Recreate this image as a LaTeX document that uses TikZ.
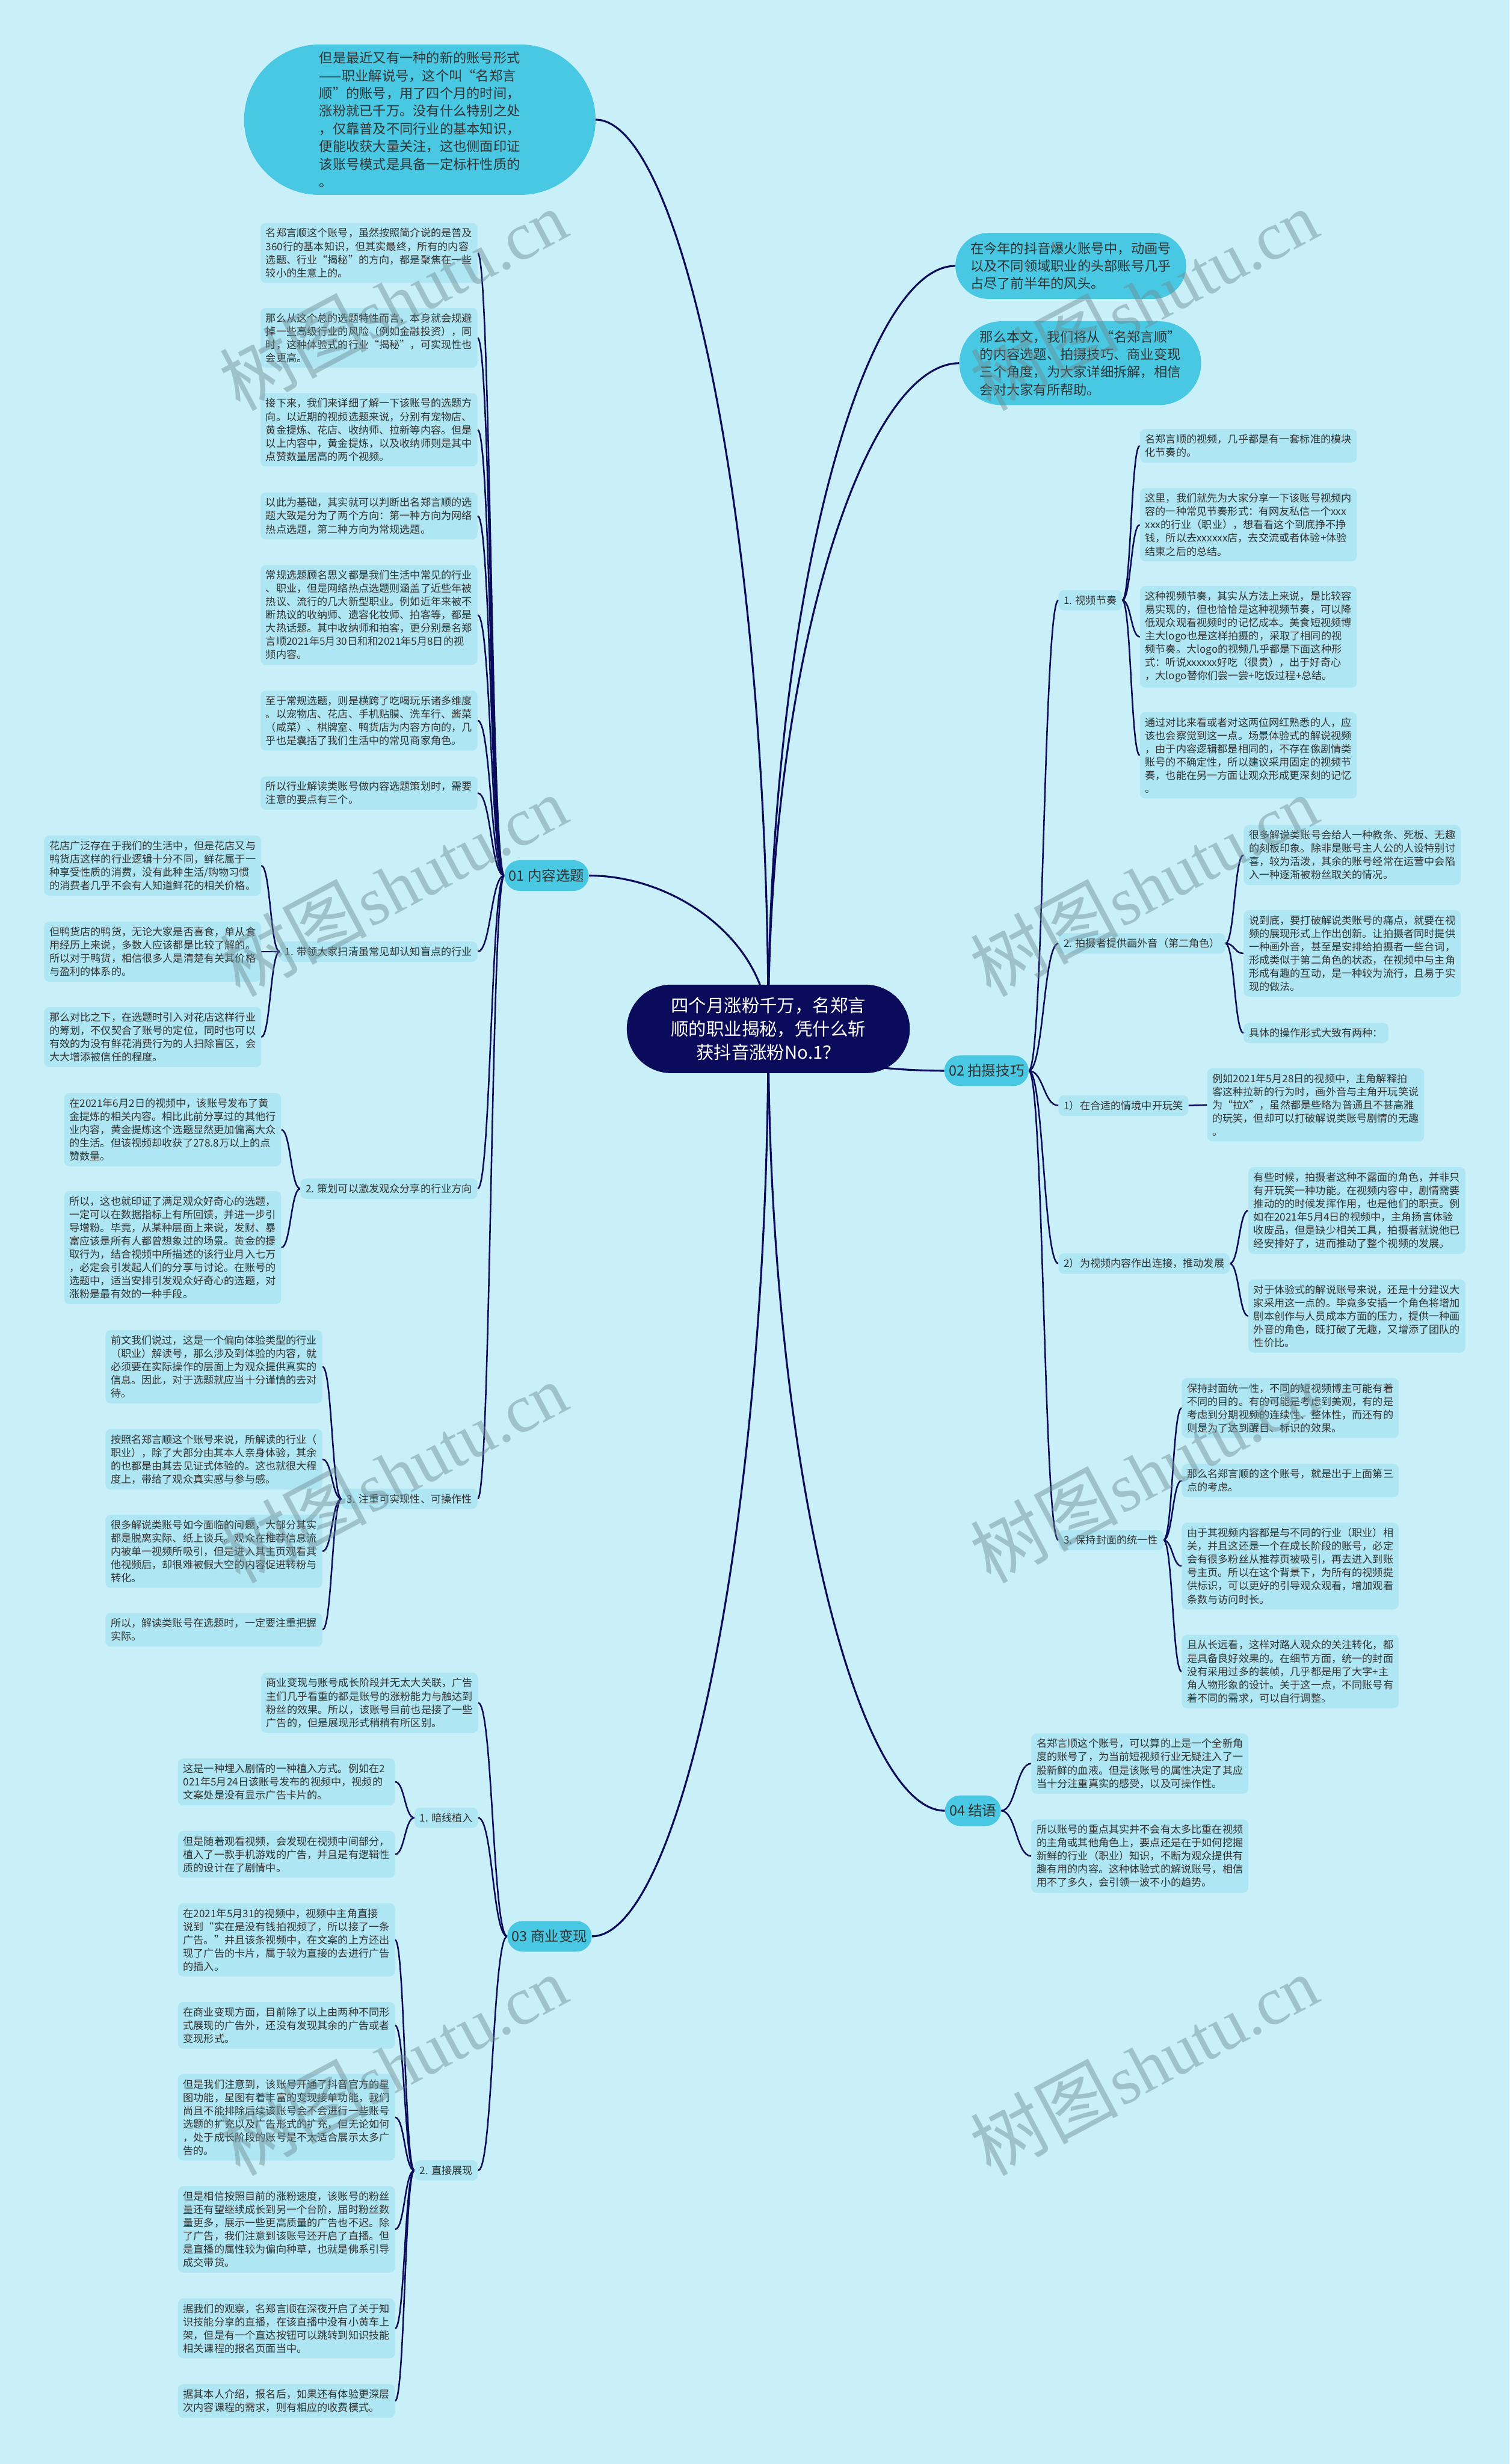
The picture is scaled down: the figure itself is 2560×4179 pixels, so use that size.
\documentclass[tikz,border=0pt]{standalone}
\usepackage{fontspec}
\setmainfont{Noto Sans CJK SC}
\newfontfamily\wmserif{Liberation Serif}
\usetikzlibrary{shapes.misc,calc}
\definecolor{bgc}{HTML}{C9F0F8}
\definecolor{notec}{HTML}{AEE6F3}
\definecolor{bubc}{HTML}{48C8E2}
\definecolor{navy}{HTML}{0B0B5C}
\definecolor{txt}{HTML}{333333}
\definecolor{wmc}{RGB}{110,140,148}
\pgfdeclarelayer{bg}
\pgfsetlayers{bg,main}
\tikzset{
 note/.style={fill=notec, rounded corners=9pt, text=txt, align=left, text width=350pt, inner xsep=9pt, inner ysep=9pt, font=\fontsize{17.5}{22.5}\selectfont},
 snote/.style={fill=notec, rounded corners=9pt, text=txt, align=left, inner xsep=9pt, inner ysep=9pt, font=\fontsize{17.5}{22.5}\selectfont},
 bubble/.style={rounded rectangle, fill=bubc, text=txt, align=left, inner xsep=8pt, font=\fontsize{22.7}{30}\selectfont},
 sect/.style={rounded rectangle, fill=bubc, text=txt, inner xsep=5pt, minimum height=52pt, font=\fontsize{24}{28}\selectfont},
 rootn/.style={rounded rectangle, fill=navy, text=white, align=center, inner xsep=9pt, minimum width=498pt, minimum height=150pt, font=\fontsize{30}{40}\selectfont},
 link/.style={draw=navy, line width=2.6pt, to path={let \p1=(\tikztostart), \p2=(\tikztotarget) in .. controls ({0.5*\x1+0.5*\x2},\y1) and ({0.5*\x1+0.5*\x2},\y2) .. (\tikztotarget)}},
 rlink/.style={draw=navy, line width=3.2pt, to path={let \p1=(\tikztostart), \p2=(\tikztotarget) in .. controls (\x1,{0.55*\y2+0.45*\y1}) and ({0.5*\x1+0.5*\x2},\y2) .. (\tikztotarget)}},
 wm/.style={rotate=28, text=wmc, opacity=0.45, inner sep=0pt}
}
\newcommand{\wmtext}{{\fontsize{125}{125}\selectfont 树图} {\wmserif\fontsize{115}{115}\selectfont shutu.cn}}
\begin{document}
\begin{tikzpicture}[x=1pt,y=-1pt]
\begin{pgfonlayer}{bg}
\fill[bgc] (0,0) rectangle (2560,4179);
\end{pgfonlayer}
\useasboundingbox (0,0) rectangle (2560,4179);

% root
\node[rootn] (root) at (1303,1745) {四个月涨粉千万，名郑言\\顺的职业揭秘，凭什么斩\\获抖音涨粉No.1？};

% bubbles
\node[bubble, minimum width=612pt, minimum height=255pt] (top) at (712,203) {但是最近又有一种的新的账号形式\\——职业解说号，这个叫“名郑言\\顺”的账号，用了四个月的时间，\\涨粉就已千万。没有什么特别之处\\，仅靠普及不同行业的基本知识，\\便能收获大量关注，这也侧面印证\\该账号模式是具备一定标杆性质的\\。};
\node[bubble, minimum height=112pt] (b1) at (1816,451) {在今年的抖音爆火账号中，动画号\\以及不同领域职业的头部账号几乎\\占尽了前半年的风头。};
\node[bubble, minimum height=142pt] (b2) at (1832,616) {那么本文，我们将从“名郑言顺”\\的内容选题、拍摄技巧、商业变现\\三个角度，为大家详细拆解，相信\\会对大家有所帮助。};

% sections
\node[sect] (s1) at (927,1485) {01 内容选题};
\node[sect] (s2) at (1673,1816) {02 拍摄技巧};
\node[sect] (s3) at (932,3284) {03 商业变现};
\node[sect] (s4) at (1650,3071) {04 结语};

% ---------- section 01 ----------
\node[note, anchor=east] (a1) at (810,429) {名郑言顺这个账号，虽然按照简介说的是普及\\360行的基本知识，但其实最终，所有的内容\\选题、行业“揭秘”的方向，都是聚焦在一些\\较小的生意上的。};
\node[note, anchor=east] (a2) at (810,573) {那么从这个总的选题特性而言，本身就会规避\\掉一些高级行业的风险（例如金融投资），同\\时，这种体验式的行业“揭秘”，可实现性也\\会更高。};
\node[note, anchor=east] (a3) at (810,729) {接下来，我们来详细了解一下该账号的选题方\\向。以近期的视频选题来说，分别有宠物店、\\黄金提炼、花店、收纳师、拉新等内容。但是\\以上内容中，黄金提炼，以及收纳师则是其中\\点赞数量居高的两个视频。};
\node[note, anchor=east] (a4) at (810,875) {以此为基础，其实就可以判断出名郑言顺的选\\题大致是分为了两个方向：第一种方向为网络\\热点选题，第二种方向为常规选题。};
\node[note, anchor=east] (a5) at (810,1043) {常规选题顾名思义都是我们生活中常见的行业\\、职业，但是网络热点选题则涵盖了近些年被\\热议、流行的几大新型职业。例如近年来被不\\断热议的收纳师、遗容化妆师、拍客等，都是\\大热话题。其中收纳师和拍客，更分别是名郑\\言顺2021年5月30日和和2021年5月8日的视\\频内容。};
\node[note, anchor=east] (a6) at (810,1222) {至于常规选题，则是横跨了吃喝玩乐诸多维度\\。以宠物店、花店、手机贴膜、洗车行、酱菜\\（咸菜）、棋牌室、鸭货店为内容方向的，几\\乎也是囊括了我们生活中的常见商家角色。};
\node[note, anchor=east] (a7) at (810,1345) {所以行业解读类账号做内容选题策划时，需要\\注意的要点有三个。};

\node[snote, anchor=east] (l11) at (810,1614) {1. 带领大家扫清虽常见却认知盲点的行业};
\node[note, anchor=east] (l11a) at (443,1468) {花店广泛存在于我们的生活中，但是花店又与\\鸭货店这样的行业逻辑十分不同，鲜花属于一\\种享受性质的消费，没有此种生活/购物习惯\\的消费者几乎不会有人知道鲜花的相关价格。};
\node[note, anchor=east] (l11b) at (443,1614) {但鸭货店的鸭货，无论大家是否喜食，单从食\\用经历上来说，多数人应该都是比较了解的。\\所以对于鸭货，相信很多人是清楚有关其价格\\与盈利的体系的。};
\node[note, anchor=east] (l11c) at (443,1759) {那么对比之下，在选题时引入对花店这样行业\\的筹划，不仅契合了账号的定位，同时也可以\\有效的为没有鲜花消费行为的人扫除盲区，会\\大大增添被信任的程度。};

\node[snote, anchor=east] (l12) at (810,2016) {2. 策划可以激发观众分享的行业方向};
\node[note, anchor=east] (l12a) at (477,1916) {在2021年6月2日的视频中，该账号发布了黄\\金提炼的相关内容。相比此前分享过的其他行\\业内容，黄金提炼这个选题显然更加偏离大众\\的生活。但该视频却收获了278.8万以上的点\\赞数量。};
\node[note, anchor=east] (l12b) at (477,2116) {所以，这也就印证了满足观众好奇心的选题，\\一定可以在数据指标上有所回馈，并进一步引\\导增粉。毕竟，从某种层面上来说，发财、暴\\富应该是所有人都曾想象过的场景。黄金的提\\取行为，结合视频中所描述的该行业月入七万\\，必定会引发起人们的分享与讨论。在账号的\\选题中，适当安排引发观众好奇心的选题，对\\涨粉是最有效的一种手段。};

\node[snote, anchor=east] (l13) at (810,2542) {3. 注重可实现性、可操作性};
\node[note, anchor=east] (l13a) at (547,2318) {前文我们说过，这是一个偏向体验类型的行业\\（职业）解读号，那么涉及到体验的内容，就\\必须要在实际操作的层面上为观众提供真实的\\信息。因此，对于选题就应当十分谨慎的去对\\待。};
\node[note, anchor=east] (l13b) at (547,2475) {按照名郑言顺这个账号来说，所解读的行业（\\职业），除了大部分由其本人亲身体验，其余\\的也都是由其去见证式体验的。这也就很大程\\度上，带给了观众真实感与参与感。};
\node[note, anchor=east] (l13c) at (547,2631) {很多解说类账号如今面临的问题，大部分其实\\都是脱离实际、纸上谈兵。观众在推荐信息流\\内被单一视频所吸引，但是进入其主页观看其\\他视频后，却很难被假大空的内容促进转粉与\\转化。};
\node[note, anchor=east] (l13d) at (547,2764) {所以，解读类账号在选题时，一定要注重把握\\实际。};

% ---------- section 03 ----------
\node[note, anchor=east] (c0) at (811,2888) {商业变现与账号成长阶段并无太大关联，广告\\主们几乎看重的都是账号的涨粉能力与触达到\\粉丝的效果。所以，该账号目前也是接了一些\\广告的，但是展现形式稍稍有所区别。};
\node[snote, anchor=east] (c1) at (811,3083) {1. 暗线植入};
\node[note, anchor=east] (c1a) at (670,3022) {这是一种埋入剧情的一种植入方式。例如在2\\021年5月24日该账号发布的视频中，视频的\\文案处是没有显示广告卡片的。};
\node[note, anchor=east] (c1b) at (670,3145) {但是随着观看视频，会发现在视频中间部分，\\植入了一款手机游戏的广告，并且是有逻辑性\\质的设计在了剧情中。};
\node[snote, anchor=east] (c2) at (811,3681) {2. 直接展现};
\node[note, anchor=east] (c2a) at (670,3290) {在2021年5月31的视频中，视频中主角直接\\说到“实在是没有钱拍视频了，所以接了一条\\广告。”并且该条视频中，在文案的上方还出\\现了广告的卡片，属于较为直接的去进行广告\\的插入。};
\node[note, anchor=east] (c2b) at (670,3435) {在商业变现方面，目前除了以上由两种不同形\\式展现的广告外，还没有发现其余的广告或者\\变现形式。};
\node[note, anchor=east] (c2c) at (670,3591) {但是我们注意到，该账号开通了抖音官方的星\\图功能，星图有着丰富的变现接单功能，我们\\尚且不能排除后续该账号会不会进行一些账号\\选题的扩充以及广告形式的扩充，但无论如何\\，处于成长阶段的账号是不太适合展示太多广\\告的。};
\node[note, anchor=east] (c2d) at (670,3781) {但是相信按照目前的涨粉速度，该账号的粉丝\\量还有望继续成长到另一个台阶，届时粉丝数\\量更多，展示一些更高质量的广告也不迟。除\\了广告，我们注意到该账号还开启了直播。但\\是直播的属性较为偏向种草，也就是佛系引导\\成交带货。};
\node[note, anchor=east] (c2e) at (670,3949) {据我们的观察，名郑言顺在深夜开启了关于知\\识技能分享的直播，在该直播中没有小黄车上\\架，但是有一个直达按钮可以跳转到知识技能\\相关课程的报名页面当中。};
\node[note, anchor=east] (c2f) at (670,4072) {据其本人介绍，报名后，如果还有体验更深层\\次内容课程的需求，则有相应的收费模式。};

% ---------- section 02 ----------
\node[snote, anchor=west] (r1) at (1795,1018) {1. 视频节奏};
\node[note, anchor=west] (r1a) at (1933,756) {名郑言顺的视频，几乎都是有一套标准的模块\\化节奏的。};
\node[note, anchor=west] (r1b) at (1933,890) {这里，我们就先为大家分享一下该账号视频内\\容的一种常见节奏形式：有网友私信一个xxx\\xxx的行业（职业），想看看这个到底挣不挣\\钱，所以去xxxxxx店，去交流或者体验+体验\\结束之后的总结。};
\node[note, anchor=west] (r1c) at (1933,1080) {这种视频节奏，其实从方法上来说，是比较容\\易实现的，但也恰恰是这种视频节奏，可以降\\低观众观看视频时的记忆成本。美食短视频博\\主大logo也是这样拍摄的，采取了相同的视\\频节奏。大logo的视频几乎都是下面这种形\\式：听说xxxxxx好吃（很贵），出于好奇心\\，大logo替你们尝一尝+吃饭过程+总结。};
\node[note, anchor=west] (r1d) at (1933,1281) {通过对比来看或者对这两位网红熟悉的人，应\\该也会察觉到这一点。场景体验式的解说视频\\，由于内容逻辑都是相同的，不存在像剧情类\\账号的不确定性，所以建议采用固定的视频节\\奏，也能在另一方面让观众形成更深刻的记忆\\。};

\node[snote, anchor=west] (r2) at (1795,1600) {2. 拍摄者提供画外音（第二角色）};
\node[note, anchor=west] (r2a) at (2109,1450) {很多解说类账号会给人一种教条、死板、无趣\\的刻板印象。除非是账号主人公的人设特别讨\\喜，较为活泼，其余的账号经常在运营中会陷\\入一种逐渐被粉丝取关的情况。};
\node[note, anchor=west] (r2b) at (2109,1617) {说到底，要打破解说类账号的痛点，就要在视\\频的展现形式上作出创新。让拍摄者同时提供\\一种画外音，甚至是安排给拍摄者一些台词，\\形成类似于第二角色的状态，在视频中与主角\\形成有趣的互动，是一种较为流行，且易于实\\现的做法。};
\node[snote, anchor=west] (r2c) at (2109,1752) {具体的操作形式大致有两种：};

\node[snote, anchor=west] (r3) at (1795,1875) {1）在合适的情境中开玩笑};
\node[note, anchor=west] (r3a) at (2047,1874) {例如2021年5月28日的视频中，主角解释拍\\客这种拉新的行为时，画外音与主角开玩笑说\\为“拉X”，虽然都是些略为普通且不甚高雅\\的玩笑，但却可以打破解说类账号剧情的无趣\\。};

\node[snote, anchor=west] (r4) at (1795,2143) {2）为视频内容作出连接，推动发展};
\node[note, anchor=west] (r4a) at (2117,2053) {有些时候，拍摄者这种不露面的角色，并非只\\有开玩笑一种功能。在视频内容中，剧情需要\\推动的的时候发挥作用，也是他们的职责。例\\如在2021年5月4日的视频中，主角扬言体验\\收废品，但是缺少相关工具，拍摄者就说他已\\经安排好了，进而推动了整个视频的发展。};
\node[note, anchor=west] (r4b) at (2117,2232) {对于体验式的解说账号来说，还是十分建议大\\家采用这一点的。毕竟多安插一个角色将增加\\剧本创作与人员成本方面的压力，提供一种画\\外音的角色，既打破了无趣，又增添了团队的\\性价比。};

\node[snote, anchor=west] (r5) at (1795,2612) {3. 保持封面的统一性};
\node[note, anchor=west] (r5a) at (2004,2388) {保持封面统一性，不同的短视频博主可能有着\\不同的目的。有的可能是考虑到美观，有的是\\考虑到分期视频的连续性、整体性，而还有的\\则是为了达到醒目、标识的效果。};
\node[note, anchor=west] (r5b) at (2004,2511) {那么名郑言顺的这个账号，就是出于上面第三\\点的考虑。};
\node[note, anchor=west] (r5c) at (2004,2656) {由于其视频内容都是与不同的行业（职业）相\\关，并且这还是一个在成长阶段的账号，必定\\会有很多粉丝从推荐页被吸引，再去进入到账\\号主页。所以在这个背景下，为所有的视频提\\供标识，可以更好的引导观众观看，增加观看\\条数与访问时长。};
\node[note, anchor=west] (r5d) at (2004,2835) {且从长远看，这样对路人观众的关注转化，都\\是具备良好效果的。在细节方面，统一的封面\\没有采用过多的装帧，几乎都是用了大字+主\\角人物形象的设计。关于这一点，不同账号有\\着不同的需求，可以自行调整。};

% ---------- section 04 ----------
\node[note, anchor=west] (d1) at (1749,2991) {名郑言顺这个账号，可以算的上是一个全新角\\度的账号了，为当前短视频行业无疑注入了一\\股新鲜的血液。但是该账号的属性决定了其应\\当十分注重真实的感受，以及可操作性。};
\node[note, anchor=west] (d2) at (1749,3148) {所以账号的重点其实并不会有太多比重在视频\\的主角或其他角色上，要点还是在于如何挖掘\\新鲜的行业（职业）知识，不断为观众提供有\\趣有用的内容。这种体验式的解说账号，相信\\用不了多久，会引领一波不小的趋势。};

% ---------- connectors ----------
\begin{pgfonlayer}{bg}
\draw[rlink] (root.center) to (top.east);
\draw[rlink] (root.center) to (b1.west);
\draw[rlink] (root.center) to (b2.west);
\draw[rlink] (root.center) to (s1.east);
\draw[rlink] (root.center) to (s2.west);
\draw[rlink] (root.center) to (s3.east);
\draw[rlink] (root.center) to (s4.west);
\foreach \nd in {a1,a2,a3,a4,a5,a6,a7,l11,l12,l13} \draw[link] (s1.west) to (\nd.east);
\foreach \nd in {l11a,l11b,l11c} \draw[link] (l11.west) to (\nd.east);
\foreach \nd in {l12a,l12b} \draw[link] (l12.west) to (\nd.east);
\foreach \nd in {l13a,l13b,l13c,l13d} \draw[link] (l13.west) to (\nd.east);
\foreach \nd in {c0,c1,c2} \draw[link] (s3.west) to (\nd.east);
\foreach \nd in {c1a,c1b} \draw[link] (c1.west) to (\nd.east);
\foreach \nd in {c2a,c2b,c2c,c2d,c2e,c2f} \draw[link] (c2.west) to (\nd.east);
\foreach \nd in {r1,r2,r3,r4,r5} \draw[link] (s2.east) to (\nd.west);
\foreach \nd in {r1a,r1b,r1c,r1d} \draw[link] (r1.east) to (\nd.west);
\foreach \nd in {r2a,r2b,r2c} \draw[link] (r2.east) to (\nd.west);
\draw[link] (r3.east) to (r3a.west);
\foreach \nd in {r4a,r4b} \draw[link] (r4.east) to (\nd.west);
\foreach \nd in {r5a,r5b,r5c,r5d} \draw[link] (r5.east) to (\nd.west);
\foreach \nd in {d1,d2} \draw[link] (s4.east) to (\nd.west);
\end{pgfonlayer}

% watermarks
\foreach \wy in {506,1500,2495,3500} {
  \node[wm] (wmL\wy) at (666,\wy) {\wmtext};
  \node[wm] (wmR\wy) at (1940,\wy) {\wmtext};
}
\end{tikzpicture}
\end{document}
